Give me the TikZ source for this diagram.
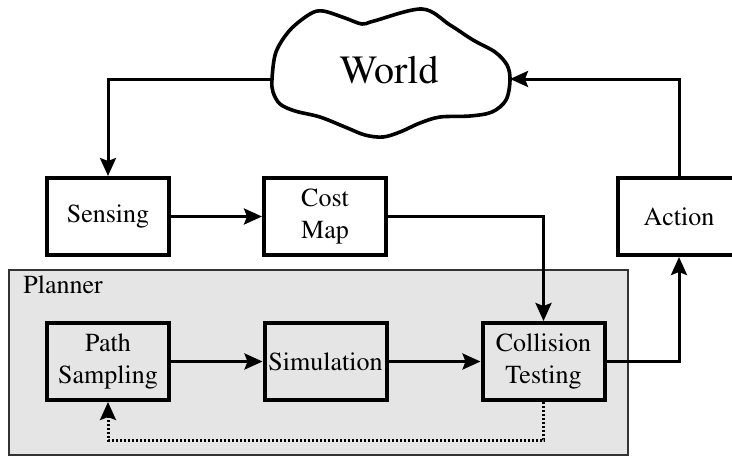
\documentclass[tikz,border=0pt]{standalone}
\usepackage[T1]{fontenc}
\usepackage{times}
\usetikzlibrary{arrows.meta}
\tikzset{
  block/.style={draw, line width=2pt, minimum width=61pt, minimum height=38.5pt,
    inner sep=0pt, align=center, font=\fontsize{13}{16}\selectfont},
  flow/.style={line width=1.5pt, -{Stealth[length=9pt,width=8pt,inset=1.5pt]}},
  feedback/.style={flow, dash pattern=on 1pt off 1pt},
}
\begin{document}
\begin{tikzpicture}[x=0.5pt,y=-0.5pt]
\useasboundingbox (0,0) rectangle (732,456);
% planner region
\draw[fill=black!10, draw=black!80, line width=0.6pt] (9,270) rectangle (628,455);
\node[anchor=base west, inner sep=0pt, font=\fontsize{13}{16}\selectfont] (plannerlabel) at (23,293) {Planner};
% world cloud
\draw[line width=1.8pt] plot[smooth cycle, tension=0.55] coordinates {
 (272,79) (276,52) (290,30) (310,14) (323,11) (345,18) (362,24) (374,21)
 (422,9) (450,25) (473,40) (495,52) (507,65) (510,80) (506,100) (492,112)
 (470,116) (440,117) (420,123) (400,132) (383,137) (365,135) (345,127)
 (320,117) (295,111) (280,104) (273,92)};
\node[anchor=base, inner sep=0pt, font=\fontsize{20}{24}\selectfont] (world) at (389,83) {World};
\coordinate (cloudwest) at (272,79);
\coordinate (cloudeast) at (510,79);
% blocks
\node[block] (sensing) at (108,216.5) {Sensing};
\node[block] (costmap) at (325,216.5) {Cost\\Map};
\node[block] (action) at (679,216.5) {Action};
\node[block] (pathsamp) at (108,361.5) {Path\\Sampling};
\node[block] (simul) at (325.5,361.5) {Simulation};
\node[block] (colltest) at (543.5,361.5) {Collision\\Testing};
% connectors
\draw[flow] (cloudwest) -| (sensing.north);
\draw[flow] (sensing) -- (costmap);
\draw[flow] (costmap.east) -| (colltest.north);
\draw[flow] (pathsamp) -- (simul);
\draw[flow] (simul) -- (colltest);
\draw[flow] (colltest.east) -| (action.south);
\draw[flow] (action.north) |- (cloudeast);
\draw[feedback] (colltest.south) -- ++(0,38) -| (pathsamp.south);
\end{tikzpicture}
\end{document}
